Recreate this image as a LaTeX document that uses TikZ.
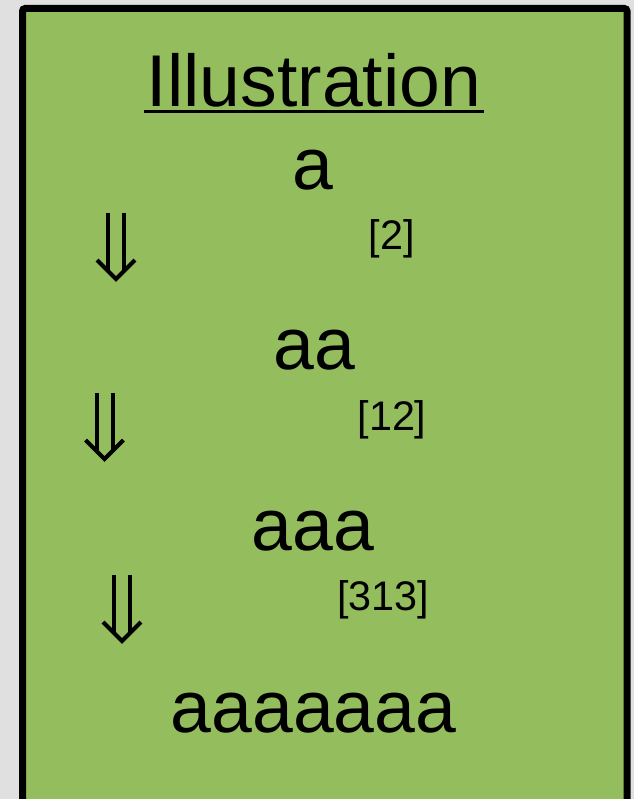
\documentclass[tikz,border=0pt]{standalone}
\usepackage{fontspec}
\setmainfont{Liberation Sans}
\usepackage{tikz}
\usetikzlibrary{positioning}
\definecolor{BoxGreen}{RGB}{148,189,94}
\definecolor{PageGray}{RGB}{224,224,224}

\begin{document}
\begin{tikzpicture}[x=0.75pt, y=-0.75pt,
	bigtext/.style={inner sep=0pt, anchor=base, font=\fontsize{55}{66}\selectfont},
	smalltext/.style={inner sep=0pt, anchor=base, font=\fontsize{31}{37}\selectfont},
	dblarrow/.style={line width=3pt}]
		\fill[PageGray] (0,0) rectangle (634,799);
		\useasboundingbox (0,0) rectangle (634,799);
		\clip (0,0) rectangle (634,799);
		
		% green panel, runs past the lower edge
		\draw[line width=5.25pt, rounded corners=2pt, fill=BoxGreen] (22.5,8.5) rectangle (627,840);
		
		\node[bigtext] (title) at (314,106) {Illustration};
		\draw[line width=2.25pt] ([xshift=-2pt,yshift=-4.1pt]title.base west) -- ([xshift=2pt,yshift=-4.1pt]title.base east);
		
		% strings
		\node[bigtext] (s1) at (313,189) {a};
		\node[bigtext] (s2) at (314.5,369) {aa};
		\node[bigtext] (s3) at (313,550) {aaa};
		\node[bigtext] (s4) at (313.5,732) {aaaaaaa};
		
		% rules used
		\node[smalltext] (r1) at (391.5,249) {[2]};
		\node[smalltext] (r2) at (392,430) {[12]};
		\node[smalltext] (r3) at (383,610) {[313]};
		
		% double arrows
		\foreach \cx/\ty in {116/213, 104.5/393, 122/575} {
			\draw[dblarrow] (\cx-8,\ty) -- (\cx-8,\ty+57);
			\draw[dblarrow] (\cx+8,\ty) -- (\cx+8,\ty+57);
			\draw[dblarrow] (\cx-19,\ty+47) -- (\cx,\ty+66) -- (\cx+19,\ty+47);
		}
	\end{tikzpicture}
\end{document}
